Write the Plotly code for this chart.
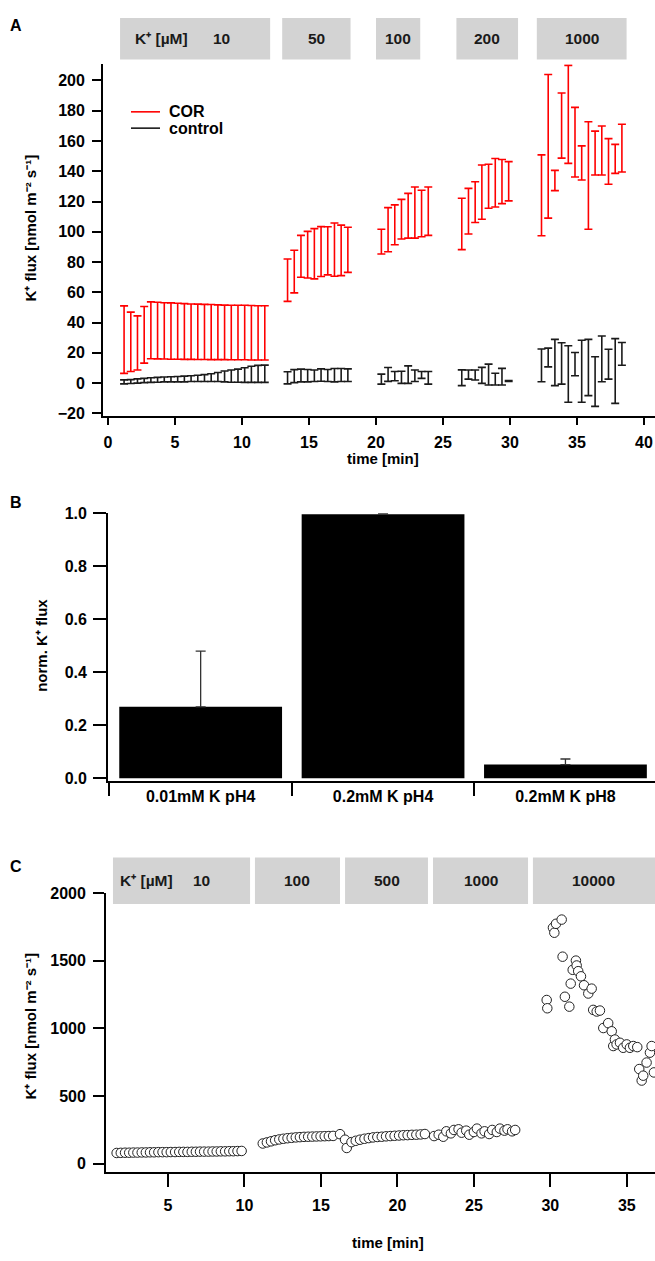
import plotly.graph_objects as go

W, H = 655, 1261
FONT = "Liberation Sans, Arial, Helvetica, sans-serif"

# ---------------- Panel A data (mean ± error, K+ flux nmol m-2 s-1) ----------------
a_time = [1.2, 1.7, 2.2, 2.7, 3.2, 3.7, 4.2, 4.7, 5.2, 5.7, 6.2, 6.7, 7.2, 7.7, 8.2, 8.7, 9.2, 9.7, 10.2, 10.7, 11.2, 11.7,
          13.4, 13.9, 14.4, 14.9, 15.4, 15.9, 16.4, 16.9, 17.4, 17.9,
          20.4, 20.9, 21.4, 21.9, 22.4, 22.9, 23.4, 23.9,
          26.4, 26.9, 27.4, 27.9, 28.4, 28.9, 29.4, 29.9,
          32.35, 32.85, 33.35, 33.85, 34.35, 34.85, 35.35, 35.85, 36.35, 36.85, 37.35, 37.85, 38.35]
cor_mean = [28.7, 27.3, 26.5, 31.9, 34.9, 34.7, 34.5, 34.4, 34.3, 34.1, 34.0, 33.9, 33.8, 33.7, 33.6, 33.5, 33.4, 33.4, 33.4, 33.3, 33.2, 33.2,
            68.0, 73.7, 83.8, 84.9, 85.5, 86.9, 87.4, 88.2, 87.7, 88.1,
            93.5, 101.4, 104.6, 108.3, 110.6, 112.7, 112.1, 113.6,
            105.2, 113.6, 119.6, 126.2, 130.1, 132.4, 133.2, 133.4,
            124.1, 156.5, 133.9, 170.2, 177.6, 159.2, 145.5, 137.2, 152.0, 153.7, 146.5, 148.2, 155.3]
cor_err = [22.3, 19.6, 17.9, 18.7, 18.8, 18.7, 18.6, 18.6, 18.5, 18.4, 18.3, 18.3, 18.2, 18.2, 18.1, 18.0, 18.0, 18.0, 18.0, 18.0, 17.9, 17.9,
           14.0, 14.1, 13.8, 15.4, 16.6, 16.5, 15.9, 17.6, 16.7, 14.9,
           8.2, 14.6, 13.2, 13.1, 14.8, 16.9, 15.4, 16.0,
           17.0, 15.1, 13.5, 17.9, 14.5, 16.0, 14.6, 13.0,
           26.7, 47.5, 6.7, 21.5, 32.4, 23.0, 11.3, 35.5, 14.5, 16.2, 15.1, 9.6, 15.8]
ctl_mean = [0.8, 1.0, 1.4, 1.7, 2.0, 2.2, 2.4, 2.5, 2.6, 2.7, 2.9, 3.1, 3.3, 3.6, 4.0, 4.4, 4.6, 4.9, 5.3, 5.8, 6.1, 6.2,
            3.5, 4.6, 5.0, 4.9, 4.8, 5.3, 5.0, 5.2, 5.3, 5.2,
            2.6, 5.7, 4.6, 3.8, 5.6, 4.8, 5.4, 3.5,
            3.5, 5.6, 5.3, 5.1, 5.6, 2.6, 4.2, 1.3,
            11.7, 16.9, 13.6, 13.0, 6.0, 12.5, 7.8, 10.3, 1.0, 16.0, 12.5, 8.0, 19.3]
ctl_err = [1.3, 1.3, 1.4, 1.4, 1.5, 1.6, 1.6, 1.7, 1.8, 1.9, 1.9, 2.1, 2.3, 2.6, 3.0, 3.6, 4.0, 4.3, 4.8, 5.3, 5.6, 5.7,
           4.0, 4.3, 4.2, 4.1, 3.8, 4.1, 4.0, 4.4, 4.3, 4.2,
           3.3, 4.6, 3.1, 4.0, 5.8, 3.8, 2.3, 4.2,
           5.2, 3.0, 3.3, 5.3, 6.9, 3.9, 5.5, 0.3,
           10.8, 6.2, 15.3, 13.7, 18.7, 7.7, 20.5, 18.6, 16.4, 15.1, 9.9, 21.4, 7.5]
a_series = ["COR", "control"]
a_colors = ["#ff0000", "#1a1a1a"]
a_conc = ["10", "50", "100", "200", "1000"]
a_conc_start = [0.9, 13.0, 20.0, 26.0, 32.0]
a_conc_end = [12.1, 18.1, 23.3, 30.6, 38.7]

# ---------------- Panel B data ----------------
b_cats = ["0.01mM K pH4", "0.2mM K pH4", "0.2mM K pH8"]
b_vals = [0.27, 0.997, 0.052]
b_err = [0.21, 0.003, 0.021]

# ---------------- Panel C data ----------------
c_time = [1.65, 1.92, 2.2, 2.47, 2.74, 3.01, 3.29, 3.56, 3.83, 4.1, 4.38, 4.65, 4.92, 5.19, 5.47, 5.74,
          6.01, 6.28, 6.56, 6.83, 7.1, 7.37, 7.65, 7.92, 8.19, 8.46, 8.74, 9.01, 9.28, 9.55, 9.82,
          11.2, 11.47, 11.74, 12.01, 12.28, 12.55, 12.82, 13.09, 13.36, 13.63, 13.9, 14.17, 14.44, 14.71,
          14.98, 15.25, 15.52, 15.8, 16.25, 16.58, 16.69,
          17.0, 17.28, 17.56, 17.85, 18.13, 18.41, 18.69, 18.98, 19.26, 19.54, 19.82, 20.11, 20.39, 20.67,
          20.95, 21.24, 21.52, 21.8,
          22.4, 22.7, 23.0, 23.2, 23.5, 23.7, 24.0, 24.2, 24.5, 24.7, 25.0, 25.2, 25.5, 25.7, 26.0, 26.2,
          26.5, 26.7, 27.0, 27.2, 27.5, 27.7,
          29.76, 29.8, 30.17, 30.26, 30.37, 30.74, 30.8, 30.95, 31.24, 31.33, 31.46, 31.67, 31.72, 31.82,
          32.0, 32.2, 32.48, 32.7, 32.8, 33.03, 33.24, 33.46, 33.78, 34.01, 34.11, 34.22, 34.33, 34.55,
          34.76, 34.99, 35.2, 35.42, 35.68, 35.81, 35.97, 36.07, 36.29, 36.51, 36.62, 36.77]
c_flux = [80, 81, 82, 82, 83, 83, 84, 84, 85, 85, 86, 86, 86, 87, 87, 88,
          88, 88, 89, 89, 90, 90, 90, 91, 91, 92, 92, 93, 93, 94, 95,
          150, 158, 166, 174, 180, 185, 189, 192, 195, 197, 199, 200, 201, 202,
          203, 204, 205, 206, 219, 178, 117,
          160, 170, 178, 185, 190, 195, 198, 200, 203, 205, 207, 209, 211, 212,
          214, 215, 217, 220,
          205, 215, 200, 240, 225, 250, 255, 230, 245, 215, 235, 260, 225, 240, 220, 250,
          235, 260, 245, 255, 240, 250,
          1210, 1149, 1744, 1707, 1773, 1804, 1530, 1234, 1161, 1331, 1433, 1501, 1465, 1423,
          1385, 1319, 1258, 1294, 1137, 1125, 1132, 1003, 1039, 979, 870, 918, 882, 894,
          857, 882, 857, 870, 862, 700, 615, 651, 748, 821, 870, 675]
c_conc = ["10", "100", "500", "1000", "10000"]
c_conc_start = [1.41, 10.69, 16.58, 22.33, 28.86]
c_conc_end = [10.37, 16.25, 22.0, 28.54, 37.5]


def px(x):
    return x / W


def py(y):
    return 1 - y / H


tickfont = dict(family=FONT, size=16, color="black", weight="bold")
txtfont = dict(family=FONT, size=15, color="black", weight="bold")
legfont = dict(family=FONT, size=16, color="black", weight="bold")
boxfont = dict(family=FONT, size=15.5, color="#1a1a1a", weight="bold")
BOXC = "#d3d3d3"
KPLUS = "K\u207a"
FLUX_TITLE = "K\u207a flux [nmol m\u207b\u00b2 s\u207b\u00b9]"

fig = go.Figure()

# Panel A: error bars only (no markers), as in the original
for name, mean, err, col in zip(a_series, [cor_mean, ctl_mean], [cor_err, ctl_err], a_colors):
    fig.add_trace(go.Scatter(x=a_time, y=mean, mode="markers", name=name,
                             marker=dict(size=1, color="rgba(0,0,0,0)"),
                             error_y=dict(type="data", array=err, visible=True, color=col,
                                          thickness=1.6, width=4),
                             xaxis="x", yaxis="y", showlegend=False, hoverinfo="skip"))

# Panel B
fig.add_trace(go.Bar(x=b_cats, y=b_vals, width=0.8925, marker=dict(color="black", line=dict(width=0)),
                     error_y=dict(type="data", symmetric=False, array=b_err, arrayminus=[0, 0, 0],
                                  color="#333333", thickness=1.3, width=5),
                     xaxis="x2", yaxis="y2", showlegend=False))

# Panel C
fig.add_trace(go.Scatter(x=c_time, y=c_flux, mode="markers",
                         marker=dict(symbol="circle", size=9.5, color="white",
                                     line=dict(color="#222222", width=1)),
                         xaxis="x3", yaxis="y3", showlegend=False))

axis_common = dict(showline=True, linecolor="black", linewidth=1.8, ticks="outside",
                   tickcolor="black", tickwidth=1.8, showgrid=False, zeroline=False,
                   tickfont=tickfont, fixedrange=True)

fig.update_layout(
    width=W, height=H,
    margin=dict(l=0, r=0, t=0, b=0),
    paper_bgcolor="white", plot_bgcolor="white",
    font=dict(family=FONT, color="black"),
    showlegend=False,
    xaxis=dict(domain=[px(103), 1], range=[-0.373, 40.82], anchor="y",
               tickvals=[0, 5, 10, 15, 20, 25, 30, 35, 40], ticklen=7, ticklabelstandoff=3, **axis_common),
    yaxis=dict(domain=[py(413), py(57)], range=[-22.03, 210.65], anchor="x",
               tickvals=[-20, 0, 20, 40, 60, 80, 100, 120, 140, 160, 180, 200], ticklen=9,
               ticklabelstandoff=4, **axis_common),
    xaxis2=dict(domain=[px(108), 1], range=[-0.508, 2.491], anchor="y2", type="category",
                tickson="boundaries", ticklen=13, **axis_common),
    yaxis2=dict(domain=[py(782), py(511)], range=[-0.0112, 1.0], anchor="x2",
                tickvals=[0, 0.2, 0.4, 0.6, 0.8, 1.0], tickformat=".1f", ticklen=13,
                ticklabelstandoff=3, **axis_common),
    xaxis3=dict(domain=[px(106), 1], range=[0.954, 36.84], anchor="y3",
                tickvals=[5, 10, 15, 20, 25, 30, 35], ticklen=13, ticklabelstandoff=5, **axis_common),
    yaxis3=dict(domain=[py(1177), py(895)], range=[-60, 2000], anchor="x3",
                tickvals=[0, 500, 1000, 1500, 2000], ticklen=11, ticklabelstandoff=4, **axis_common),
)

shapes = []
annotations = []

# legend of panel A (line samples + labels)
for name, col, yy in zip(a_series, a_colors, [105, 121.5]):
    shapes.append(dict(type="line", xref="paper", yref="paper", x0=px(131), x1=px(160),
                       y0=py(yy), y1=py(yy), line=dict(color=col, width=1.6)))
    annotations.append(dict(xref="paper", yref="paper", x=px(167), y=py(yy), text=name,
                            xanchor="left", yanchor="middle", showarrow=False, font=legfont))

# concentration boxes, panel A
for lab, s, e in zip(a_conc, a_conc_start, a_conc_end):
    shapes.append(dict(type="rect", xref="x", yref="paper", x0=s, x1=e, y0=py(52), y1=py(10),
                       fillcolor=BOXC, line=dict(width=0), layer="above"))
    cx = (s + e) / 2
    if lab == a_conc[0]:
        annotations.append(dict(xref="x", yref="paper", x=s + 0.95, y=py(31), xanchor="left",
                                yanchor="middle", text=KPLUS + " [µM]", showarrow=False, font=boxfont))
        cx = s + 7.55
    annotations.append(dict(xref="x", yref="paper", x=cx, y=py(31), xanchor="center", yanchor="middle",
                            text=lab, showarrow=False, font=boxfont))

# concentration boxes, panel C
for lab, s, e in zip(c_conc, c_conc_start, c_conc_end):
    shapes.append(dict(type="rect", xref="x3", yref="paper", x0=s, x1=e, y0=py(906), y1=py(859),
                       fillcolor=BOXC, line=dict(width=0), layer="above"))
    cx = (s + e) / 2
    if lab == c_conc[0]:
        annotations.append(dict(xref="x3", yref="paper", x=s + 0.3, y=py(882), xanchor="left",
                                yanchor="middle", text=KPLUS + " [µM]", showarrow=False, font=boxfont))
        cx = s + 5.8
    if lab == c_conc[-1]:
        cx = 32.8
    annotations.append(dict(xref="x3", yref="paper", x=cx, y=py(882), xanchor="center", yanchor="middle",
                            text=lab, showarrow=False, font=boxfont))

# panel letters
for letter, yy in [("A", 18), ("B", 500), ("C", 868)]:
    annotations.append(dict(xref="paper", yref="paper", x=px(16), y=py(yy), text=letter,
                            showarrow=False, xanchor="center", yanchor="middle", font=legfont))

# axis titles
annotations += [
    dict(xref="paper", yref="paper", x=px(383), y=py(456), text="time [min]", showarrow=False,
         xanchor="center", yanchor="middle", font=txtfont),
    dict(xref="paper", yref="paper", x=px(388), y=py(1248), text="time [min]", showarrow=False,
         xanchor="center", yanchor="middle", font=txtfont),
    dict(xref="paper", yref="paper", x=px(31), y=py(223), text=FLUX_TITLE, textangle=-90,
         showarrow=False, xanchor="center", yanchor="middle", font=txtfont),
    dict(xref="paper", yref="paper", x=px(31), y=py(1030), text=FLUX_TITLE, textangle=-90,
         showarrow=False, xanchor="center", yanchor="middle", font=txtfont),
    dict(xref="paper", yref="paper", x=px(42), y=py(645), text="norm. " + KPLUS + " flux", textangle=-90,
         showarrow=False, xanchor="center", yanchor="middle", font=txtfont),
]

fig.update_layout(shapes=shapes, annotations=annotations)
fig.write_html("out.html")
